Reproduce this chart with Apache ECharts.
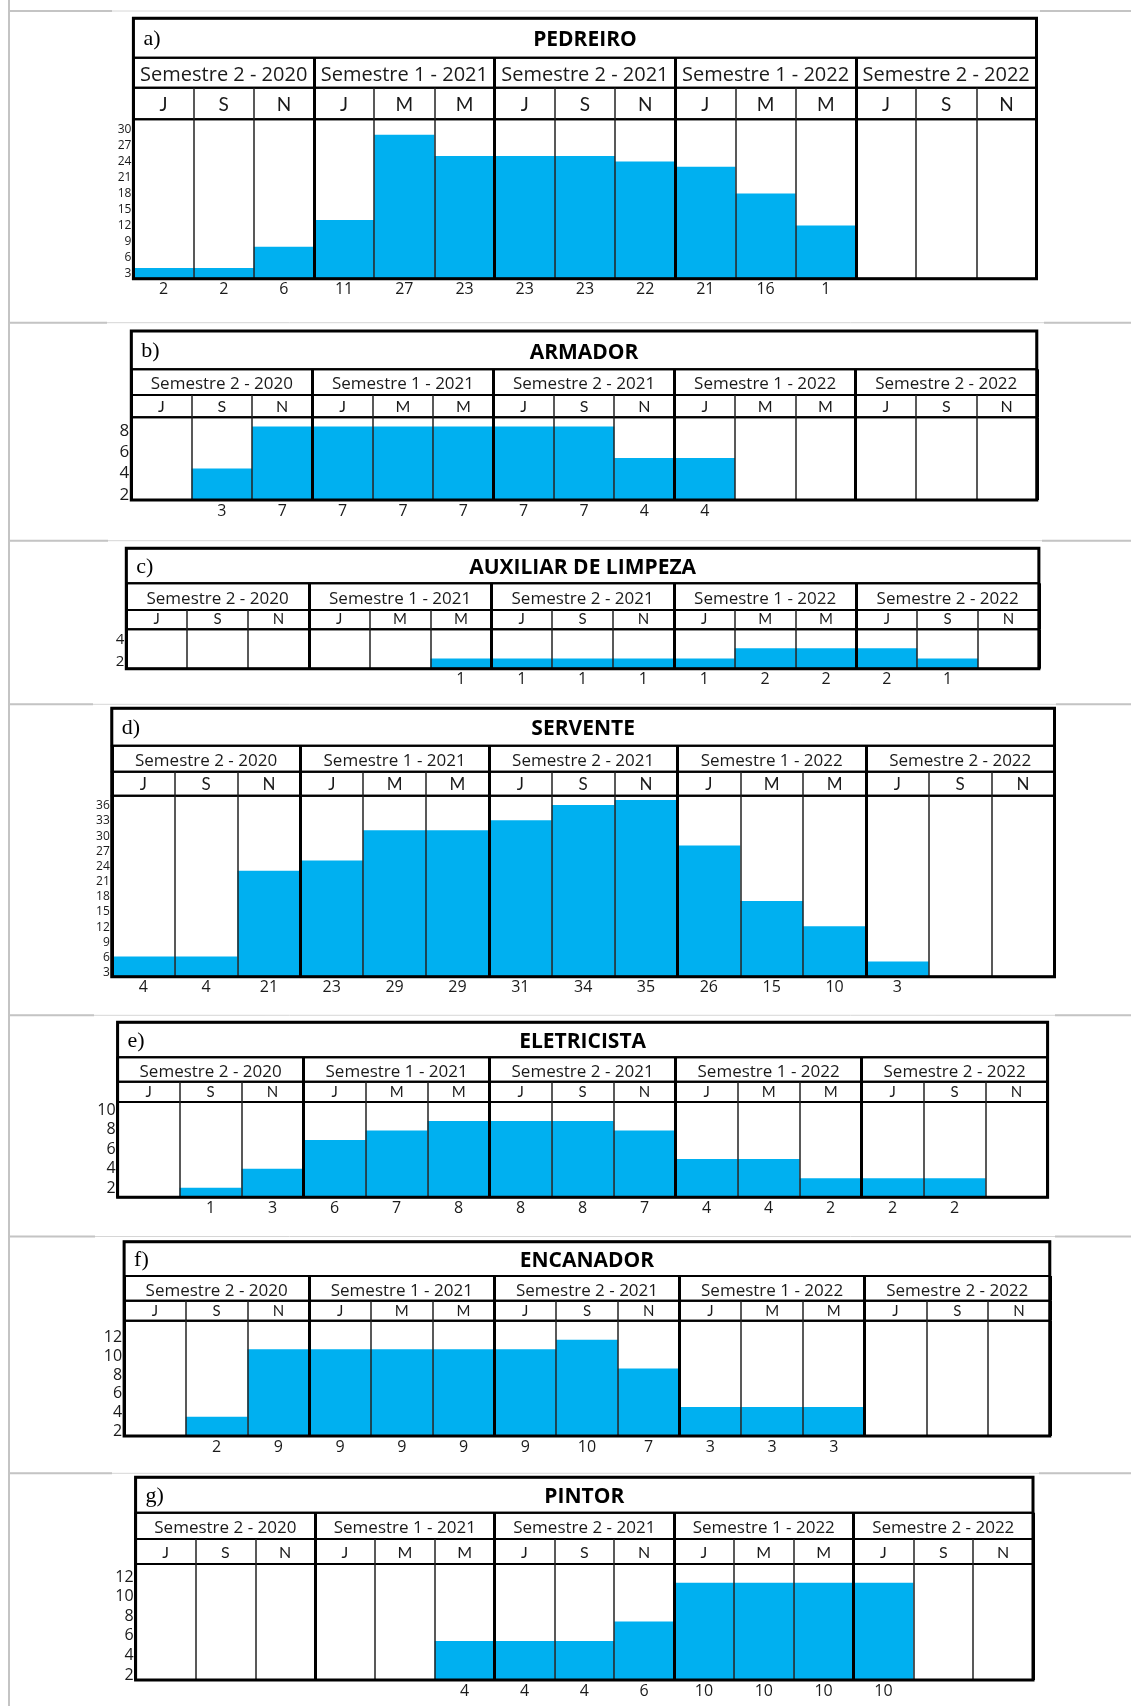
<!DOCTYPE html>
<html>
<head>
<meta charset="utf-8">
<script src="https://cdn.jsdelivr.net/npm/echarts@6/dist/echarts.min.js"></script>
<style>
html,body{margin:0;padding:0;background:#fff;}
#chart{width:1131px;height:1706px;}
</style>
</head>
<body>
<div id="chart"></div>
<script>
// ---------- DATA ----------
const months = ['J','S','N','J','M','M','J','S','N','J','M','M','J','S','N'];
const semesters = ['Semestre 2 - 2020','Semestre 1 - 2021','Semestre 2 - 2021','Semestre 1 - 2022','Semestre 2 - 2022'];

const pedreiroValues = [2,2,6,11,27,23,23,23,22,21,16,10,null,null,null];
const pedreiroLabels = ['2','2','6','11','27','23','23','23','22','21','16','1','','',''];
const pedreiroTicks = [3,6,9,12,15,18,21,24,27,30];

const armadorValues = [null,3,7,7,7,7,7,7,4,4,null,null,null,null,null];
const armadorLabels = ['','3','7','7','7','7','7','7','4','4','','','','',''];
const armadorTicks = [2,4,6,8];

const auxiliarValues = [null,null,null,null,null,1,1,1,1,1,2,2,2,1,null];
const auxiliarLabels = ['','','','','','1','1','1','1','1','2','2','2','1',''];
const auxiliarTicks = [2,4];

const serventeValues = [4,4,21,23,29,29,31,34,35,26,15,10,3,null,null];
const serventeLabels = ['4','4','21','23','29','29','31','34','35','26','15','10','3','',''];
const serventeTicks = [3,6,9,12,15,18,21,24,27,30,33,36];

const eletricistaValues = [null,1,3,6,7,8,8,8,7,4,4,2,2,2,null];
const eletricistaLabels = ['','1','3','6','7','8','8','8','7','4','4','2','2','2',''];
const eletricistaTicks = [2,4,6,8,10];

const encanadorValues = [null,2,9,9,9,9,9,10,7,3,3,3,null,null,null];
const encanadorLabels = ['','2','9','9','9','9','9','10','7','3','3','3','','',''];
const encanadorTicks = [2,4,6,8,10,12];

const pintorValues = [null,null,null,null,null,4,4,4,6,10,10,10,10,null,null];
const pintorLabels = ['','','','','','4','4','4','6','10','10','10','10','',''];
const pintorTicks = [2,4,6,8,10,12];

// ---------- LAYOUT (positions / sizes / styles) ----------
const SANS = "'Open Sans', 'Noto Sans', sans-serif";
const MONTH_FONT = "Lato, 'Open Sans', sans-serif";
const SERIF = "'Liberation Serif', 'DejaVu Serif', serif";
const TXT = '#1a1a1a';
const BAR = '#00B0F0';
const TEXT_DROP = 2.5; // visual centring correction for header texts

const panels = [
  {letter:'a)', title:'PEDREIRO', values:pedreiroValues, labels:pedreiroLabels, ticks:pedreiroTicks,
   box:[133.4,1036.5,18.3,57.7,87.7,119.3,278.7], barMax:29.9, tickRange:[2.12,32.0],
   f:{sem:20, mon:19, val:16, tick:12, title:21}, monDrop:1.5},
  {letter:'b)', title:'ARMADOR', values:armadorValues, labels:armadorLabels, ticks:armadorTicks,
   box:[131.3,1036.8,331,369.3,395,417.3,500], barMax:7.88, tickRange:[1.53,9.28],
   f:{sem:17, mon:16, val:16, tick:17, title:21}, monDrop:0.5},
  {letter:'c)', title:'AUXILIAR DE LIMPEZA', values:auxiliarValues, labels:auxiliarLabels, ticks:auxiliarTicks,
   box:[126.3,1038.9,548.3,583.3,610,629.3,668.7], barMax:3.86, tickRange:[1.35,4.99],
   f:{sem:17, mon:15, val:16, tick:15, title:21}, monDrop:0},
  {letter:'d)', title:'SERVENTE', values:serventeValues, labels:serventeLabels, ticks:serventeTicks,
   box:[111.8,1054.5,708.3,745.7,771.7,795.7,976.7], barMax:35.84, tickRange:[2.21,37.98],
   f:{sem:17, mon:17, val:16, tick:12, title:21}, monDrop:1},
  {letter:'e)', title:'ELETRICISTA', values:eletricistaValues, labels:eletricistaLabels, ticks:eletricistaTicks,
   box:[117.6,1047.6,1022.3,1057.3,1081.7,1102,1197.3], barMax:9.98, tickRange:[1.08,10.82],
   f:{sem:17, mon:15, val:16, tick:16, title:21}, monDrop:0.5},
  {letter:'f)', title:'ENCANADOR', values:encanadorValues, labels:encanadorLabels, ticks:encanadorTicks,
   box:[124.1,1049.8,1241.7,1276,1300.7,1320.7,1436], barMax:11.97, tickRange:[1.54,13.76],
   f:{sem:17, mon:15, val:16, tick:16, title:21}, monDrop:0.5},
  {letter:'g)', title:'PINTOR', values:pintorValues, labels:pintorLabels, ticks:pintorTicks,
   box:[135.6,1033,1477.3,1512.7,1539,1564,1680], barMax:11.92, tickRange:[1.49,13.36],
   f:{sem:17, mon:16, val:16, tick:16, title:21}, monDrop:1}
];

// page separators (Word table borders): [y, leftEnd, rightStart]
const pageRules = [[11,112,1040],[322.7,107,1044],[540.7,108,1042],[704.3,93,1056],
                   [1015.3,94,1055],[1236.5,95,1055],[1473.3,112,1039]];

// ---------- BUILD ----------
const option = {animation:false, backgroundColor:'#fff', grid:[], xAxis:[], yAxis:[], series:[], graphic:[]};

function hiddenAxes(gi){
  option.xAxis.push({gridIndex:gi, type:'category', data:[''], show:false});
  option.yAxis.push({gridIndex:gi, type:'value', show:false});
}
function splitAxis(gi, data, width, color, labelCfg){
  option.xAxis.push({
    gridIndex:gi, type:'category', data:data, position:'bottom', z:10,
    axisLine:{show:false}, axisTick:{show:false},
    axisLabel: labelCfg ? Object.assign({show:true, inside:true, interval:0, verticalAlign:'middle',
                 color:TXT, fontFamily:SANS}, labelCfg) : {show:false},
    splitLine:{show:true, interval:0, lineStyle:{color:color, width:width}}
  });
  return option.xAxis.length-1;
}

panels.forEach(p => {
  const [L,R,T,t1,t2,t3,B] = p.box;
  const W = R-L;
  const g0 = option.grid.length;
  const gridBase = {left:L, width:W, show:true, borderColor:'#000', borderWidth:2, z:10, containLabel:false};
  option.grid.push(Object.assign({top:T, height:t1-T}, gridBase));
  option.grid.push(Object.assign({top:t1, height:t2-t1}, gridBase));
  option.grid.push(Object.assign({top:t2, height:t3-t2}, gridBase));
  option.grid.push(Object.assign({top:t3, height:B-t3}, gridBase));

  // title row
  hiddenAxes(g0);
  // semester row
  splitAxis(g0+1, semesters, 3, '#000', {margin:(t2-t1)/2 - TEXT_DROP, fontSize:p.f.sem});
  option.yAxis.push({gridIndex:g0+1, type:'value', show:false});
  // month row
  splitAxis(g0+2, months, 1.5, '#222', {margin:(t3-t2)/2 - p.monDrop, fontSize:p.f.mon, fontFamily:MONTH_FONT});
  splitAxis(g0+2, semesters, 3, '#000', null);
  option.yAxis.push({gridIndex:g0+2, type:'value', show:false});
  // plot row
  const xMonth = splitAxis(g0+3, months, 1.5, '#222', null);
  splitAxis(g0+3, semesters, 3, '#000', null);
  option.yAxis.push({gridIndex:g0+3, type:'value', min:0, max:p.barMax, show:false});
  const yBar = option.yAxis.length-1;
  option.yAxis.push({gridIndex:g0+3, type:'value', position:'left', min:p.tickRange[0], max:p.tickRange[1],
    axisLine:{show:false}, axisTick:{show:false}, splitLine:{show:false},
    axisLabel:{show:true, customValues:p.ticks, margin:2, fontSize:p.f.tick, color:TXT, fontFamily:SANS, showMinLabel:true, showMaxLabel:true}});

  option.series.push({
    type:'bar', xAxisIndex:xMonth, yAxisIndex:yBar, data:p.values, barWidth:'100%', z:2,
    itemStyle:{color:BAR},
    label:{show:true, position:'bottom', distance:3, fontSize:p.f.val, color:TXT, fontFamily:SANS,
           formatter: (prm) => p.labels[prm.dataIndex]}
  });

  // frame + title texts
  option.graphic.push({type:'rect', z:100, silent:true, shape:{x:L, y:T, width:W, height:B-T},
                       style:{fill:'transparent', stroke:'#000', lineWidth:3}});
  option.graphic.push({type:'text', z:100, x:(L+R)/2, y:(T+t1)/2 + TEXT_DROP,
                       style:{text:p.title, fill:'#000', font:'bold '+p.f.title+'px '+SANS, textAlign:'center', textVerticalAlign:'middle'}});
  option.graphic.push({type:'text', z:100, x:L+10, y:(T+t1)/2 + 1,
                       style:{text:p.letter, fill:'#000', font:'22px '+SERIF, textAlign:'left', textVerticalAlign:'middle'}});
});

// page rules
option.graphic.push({type:'line', z:1, shape:{x1:9, y1:0, x2:9, y2:1706}, style:{stroke:'#c4c4c4', lineWidth:2}});
pageRules.forEach(r => {
  const [y,a,b] = r;
  option.graphic.push({type:'line', z:1, shape:{x1:9, y1:y, x2:1131, y2:y}, style:{stroke:'#d6d6d6', lineWidth:1}});
  option.graphic.push({type:'line', z:1, shape:{x1:9, y1:y, x2:a, y2:y}, style:{stroke:'#c4c4c4', lineWidth:2}});
  option.graphic.push({type:'line', z:1, shape:{x1:b, y1:y, x2:1131, y2:y}, style:{stroke:'#c4c4c4', lineWidth:2}});
});

const chart = echarts.init(document.getElementById('chart'), null, {renderer:'canvas'});
chart.setOption(option);
</script>
</body>
</html>
